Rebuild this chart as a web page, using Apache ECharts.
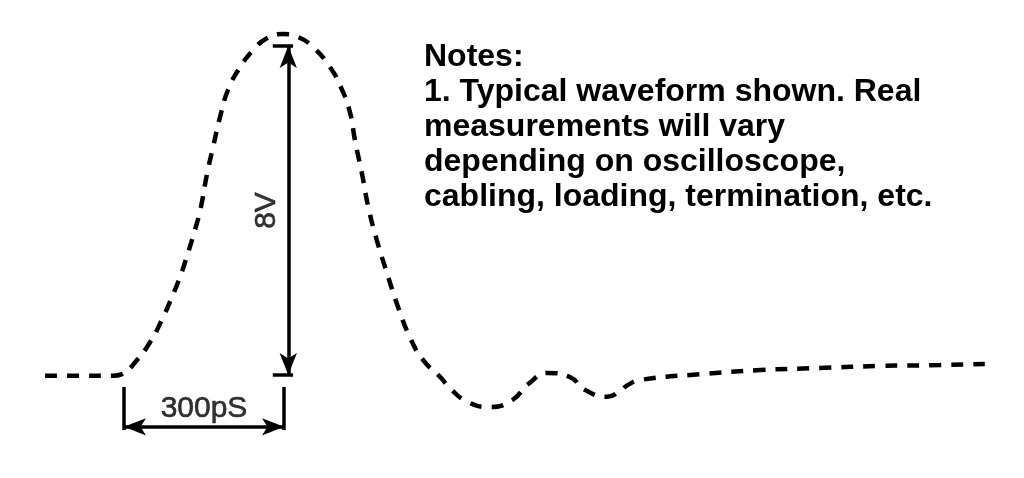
<!DOCTYPE html>
<html>
<head>
<meta charset="utf-8">
<script src="https://cdn.jsdelivr.net/npm/echarts@6/dist/echarts.min.js"></script>
<style>
  html, body { margin: 0; padding: 0; background: #fff; }
  #chart { width: 1024px; height: 478px; }
</style>
</head>
<body>
<div id="chart"></div>
<script>
// waveform, time in ps, amplitude in V
const timePs = [-148, -83, -21, -4, 24, 49, 71, 90, 105, 120, 133, 143, 156, 167, 180, 195, 218, 242, 268, 298,
  326, 354, 386, 409, 424, 433, 446, 458, 474, 493, 514, 536, 561, 593, 611, 645, 686, 728, 758, 795,
  836, 864, 906, 930, 945, 968, 1080, 1193, 1305, 1418, 1530, 1614];
const volts = [-0.02, -0.02, -0.02, 0.02, 0.36, 0.8, 1.34, 1.9, 2.38, 2.97, 3.53, 4.01, 4.91, 5.54, 6.27, 6.93, 7.49, 7.9, 8.19, 8.29,
  8.22, 7.98, 7.49, 6.93, 6.37, 5.71, 4.91, 4.09, 3.28, 2.48, 1.65, 0.92, 0.36, -0.05, -0.32, -0.66, -0.78, -0.61, -0.22, 0.05,
  -0.05, -0.36, -0.53, -0.39, -0.24, -0.12, 0.02, 0.12, 0.17, 0.22, 0.24, 0.27];

// dimension annotations
const riseSpan = [0, 300];      // ps, horizontal dimension
const swing = [0, 8];           // V, vertical dimension
const swingAt = 308;            // ps, where the vertical arrow sits
const riseLabel = '300pS';
const swingLabel = '8V';
const notes = [
  'Notes:',
  '1. Typical waveform shown. Real',
  'measurements will vary',
  'depending on oscilloscope,',
  'cabling, loading, termination, etc.'
];

const chart = echarts.init(document.getElementById('chart'));
const solid = { color: '#000', width: 3.5, type: 'solid' };

chart.setOption({
  animation: false,
  grid: { left: 0, right: 0, top: 0, bottom: 0 },
  xAxis: { type: 'value', min: -232.5, max: 1687.5, show: false },
  yAxis: { type: 'value', min: -2.505, max: 9.119, show: false },
  graphic: [{
    type: 'text',
    left: 424,
    top: 40,
    style: {
      text: notes.join('\n'),
      font: 'bold 32px "Liberation Sans", Arial, sans-serif',
      lineHeight: 35,
      fill: '#000'
    }
  }],
  series: [
    {
      type: 'line',
      data: timePs.map((t, i) => [t, volts[i]]),
      smooth: 0.5,
      showSymbol: false,
      silent: true,
      lineStyle: { color: '#000', width: 4.5, type: [12, 10] },
      markLine: {
        silent: true,
        label: { show: false },
        lineStyle: solid,
        symbol: 'none',
        data: [
          // vertical 8V arrow
          [{ coord: [swingAt, swing[0]], symbol: 'arrow', symbolSize: [13, 22] },
           { coord: [swingAt, swing[1]], symbol: 'arrow', symbolSize: [13, 22] }],
          // end bars of vertical arrow
          [{ coord: [279, swing[1]] }, { coord: [317, swing[1]] }],
          [{ coord: [279, swing[0]] }, { coord: [317, swing[0]] }],
          // horizontal 300pS dimension
          [{ coord: [riseSpan[0], -0.29] }, { coord: [riseSpan[0], -1.34] }],
          [{ coord: [riseSpan[1], -0.29] }, { coord: [riseSpan[1], -1.34] }],
          [{ coord: [riseSpan[0], -1.26], symbol: 'arrow', symbolSize: [13, 22] },
           { coord: [riseSpan[1], -1.26], symbol: 'arrow', symbolSize: [13, 22] }]
        ]
      }
    },
    {
      type: 'scatter',
      symbolSize: 0,
      silent: true,
      data: [
        { value: [(riseSpan[0] + riseSpan[1]) / 2, -0.83], name: riseLabel },
        { value: [268, 4.0], name: swingLabel, label: { rotate: 90 } }
      ],
      label: {
        show: true,
        position: 'inside',
        formatter: p => p.name,
        color: '#000',
        textBorderColor: '#000',
        textBorderWidth: 0.6,
        fontSize: 30,
        fontFamily: '"Liberation Sans", Arial, sans-serif'
      }
    }
  ]
});
</script>
</body>
</html>
